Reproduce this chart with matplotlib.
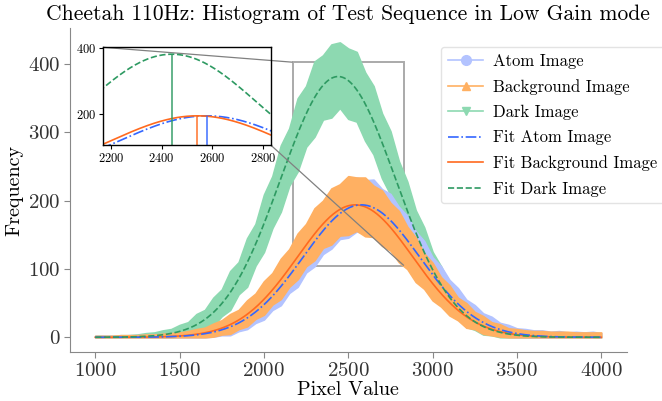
import numpy as np
import matplotlib
matplotlib.use("Agg")
import matplotlib.pyplot as plt
from matplotlib.lines import Line2D
from mpl_toolkits.axes_grid1.inset_locator import mark_inset

plt.rcParams['font.family'] = ['cmr10', 'DejaVu Serif']
plt.rcParams['mathtext.fontset'] = 'cm'
plt.rcParams['axes.unicode_minus'] = False
plt.rcParams['axes.formatter.use_mathtext'] = True

# ---- data ----
pixel = [1000, 1050, 1100, 1150, 1200, 1250, 1300, 1350, 1400, 1450,
         1500, 1550, 1600, 1650, 1700, 1750, 1800, 1850, 1900, 1950,
         2000, 2050, 2100, 2150, 2200, 2250, 2300, 2350, 2400, 2450,
         2500, 2550, 2600, 2650, 2700, 2750, 2800, 2850, 2900, 2950,
         3000, 3050, 3100, 3150, 3200, 3250, 3300, 3350, 3400, 3450,
         3500, 3550, 3600, 3650, 3700, 3750, 3800, 3850, 3900, 3950, 4000]

# envelope (lowest / highest extent incl. error bars) of each histogram
atom_lo = [0, 0, 0, 0, 0, 0, 0, 0, 0, 0, 0, 0, 0, 0,
           1, 3, 3, 9, 12, 21, 26, 40, 47, 65, 74, 95, 104, 122, 130, 144,
           146, 155, 152, 153, 141, 136, 119, 110, 91, 82, 62, 54, 38, 31,
           20, 15, 8, 6, 2, 1,
           0, 0, 0, 0, 0, 0, 0, 0, 0, 0, 0]
atom_hi = [2, 2, 2, 2, 3, 3, 3, 4, 4, 5, 6, 8, 9, 13, 15, 21, 26, 35, 42, 56,
           65, 84, 96, 118, 132, 156, 169, 192, 203, 220, 224, 234, 230, 231,
           217, 210, 191, 178, 155, 141, 117, 104, 84, 72, 55, 47, 35, 30, 21,
           18, 13, 12, 10, 10, 8, 9, 7, 8, 7, 8, 6]

bg_lo = [0, 0, 0, 0, 0, 0, 0, 0, 0, 0, 0, 0, 0, 0,
         1, 4, 5, 12, 16, 27, 33, 48, 56, 74, 85, 104, 113, 131, 136, 149,
         150, 156, 148, 147, 134, 127, 110, 100, 81, 71, 54, 45, 32, 25,
         14, 12, 5, 3, 1,
         0, 0, 0, 0, 0, 0, 0, 0, 0, 0, 0, 0]
bg_hi = [2, 2, 2, 3, 3, 3, 4, 4, 5, 6, 7, 9, 12, 14, 20, 25, 34, 40, 54, 64,
         82, 94, 115, 129, 152, 166, 189, 200, 218, 224, 236, 234, 234, 222,
         215, 197, 185, 162, 146, 123, 109, 88, 76, 58, 50, 37, 31, 22, 19,
         13, 12, 10, 9, 9, 8, 8, 8, 7, 7, 7, 7]

dark_lo = [0, 0, 0, 0, 0, 0, 0, 0, 0, 0, 1, 4, 5, 13, 17, 31, 40, 63, 74, 105,
           125, 160, 184, 222, 243, 279, 294, 319, 322, 336, 320, 316, 288,
           268, 233, 209, 171, 149, 115, 95, 69, 54, 36, 27, 15, 11, 4, 3, 0,
           0, 0, 0, 0, 0, 0, 0, 0, 0, 0, 0, 0]
dark_hi = [2, 2, 2, 3, 3, 4, 6, 7, 10, 12, 18, 22, 34, 40, 58, 70, 97, 110,
           145, 166, 209, 236, 281, 306, 350, 368, 404, 413, 429, 432, 423,
           418, 388, 368, 328, 302, 258, 228, 186, 161, 125, 104, 78, 64, 46,
           38, 26, 21, 14, 11, 8, 6, 5, 4, 3, 2, 2, 2, 2, 2, 2]

# Gaussian fit parameters: amplitude, mean, sigma
fit_atom = [194, 2578, 345]
fit_bg = [194, 2541, 342]
fit_dark = [382, 2440, 341]

labels = ['Atom Image', 'Background Image', 'Dark Image',
          'Fit Atom Image', 'Fit Background Image', 'Fit Dark Image']

c_atom_l, c_bg_l, c_dark_l = '#b3c3ff', '#ffb062', '#8dd9b1'
c_atom, c_bg, c_dark = '#3366ff', '#ff6a1f', '#2e9a62'


def gauss(x, p):
    a, m, s = p
    return a * np.exp(-(x - m) ** 2 / (2 * s ** 2))


fig = plt.figure(figsize=(6.62, 4.01), dpi=100)
ax = fig.add_axes([0.1057, 0.1222, 0.8407, 0.8078])

x = np.asarray(pixel, float)
for lo, hi, c in [(dark_lo, dark_hi, c_dark_l), (atom_lo, atom_hi, c_atom_l),
                  (bg_lo, bg_hi, c_bg_l)]:
    ax.fill_between(x, lo, hi, color=c, lw=1.2, edgecolor=c, zorder=2)

xf = np.linspace(pixel[0], pixel[-1], 601)
l1, = ax.plot(xf, gauss(xf, fit_atom), color=c_atom, ls='-.', lw=1.2, zorder=4)
l2, = ax.plot(xf, gauss(xf, fit_bg), color=c_bg, ls='-', lw=1.2, zorder=3)
l3, = ax.plot(xf, gauss(xf, fit_dark), color=c_dark, ls='--', lw=1.2, zorder=4)

ax.set_xlim(850, 4150)
ax.set_ylim(-21.6, 453)
ax.set_xticks([1000, 1500, 2000, 2500, 3000, 3500, 4000])
ax.set_yticks([0, 100, 200, 300, 400])
for s in ['top', 'right']:
    ax.spines[s].set_visible(False)
for s in ['left', 'bottom']:
    ax.spines[s].set_color('#888888')
ax.tick_params(colors='#333333', labelsize=15, length=4, color='#888888', pad=3)
ax.set_xlabel('Pixel Value', fontsize=14.5, labelpad=1)
ax.set_ylabel('Frequency', fontsize=14.5, labelpad=3)
ax.set_title('Cheetah 110Hz: Histogram of Test Sequence in Low Gain mode',
             fontsize=15.5, pad=6)

handles = [
    Line2D([], [], color=c_atom_l, marker='o', ms=7, lw=1.2),
    Line2D([], [], color=c_bg_l, marker='^', ms=6, lw=1.2),
    Line2D([], [], color=c_dark_l, marker='v', ms=6, lw=1.2),
    l1, l2, l3]
leg = fig.legend(handles, labels, loc='upper left',
                 bbox_to_anchor=(441 / 662, 1 - 47 / 401),
                 bbox_transform=fig.transFigure, borderaxespad=0,
                 fontsize=12.0, frameon=True, labelspacing=0.6,
                 handlelength=2.15, handletextpad=0.6, borderpad=0.4)
leg.get_frame().set_edgecolor('#dddddd')

# inset
axins = fig.add_axes([0.156, 0.6384, 0.2529, 0.2436])
for p, c, ls in [(fit_atom, c_atom, '-.'), (fit_bg, c_bg, '-'), (fit_dark, c_dark, '--')]:
    axins.plot(xf, gauss(xf, p), color=c, ls=ls, lw=1.2)
axins.set_xlim(2170, 2830)
axins.set_ylim(105, 403)
for p, c in [(fit_atom, c_atom), (fit_bg, c_bg), (fit_dark, c_dark)]:
    axins.vlines(p[1], 105, p[0], color=c, lw=1.3, alpha=0.8)
axins.set_xticks([2200, 2400, 2600, 2800])
axins.set_yticks([200, 400])
axins.tick_params(labelsize=9, length=3, pad=2)
for s in axins.spines.values():
    s.set_color('black')
    s.set_linewidth(1.0)

pp, p1, p2 = mark_inset(ax, axins, loc1=2, loc2=4, fc='none', ec='0.5', lw=0.9)
pp.set_edgecolor('#aaaaaa')
pp.set_linewidth(1.4)

fig.savefig('out.png', dpi=100)
